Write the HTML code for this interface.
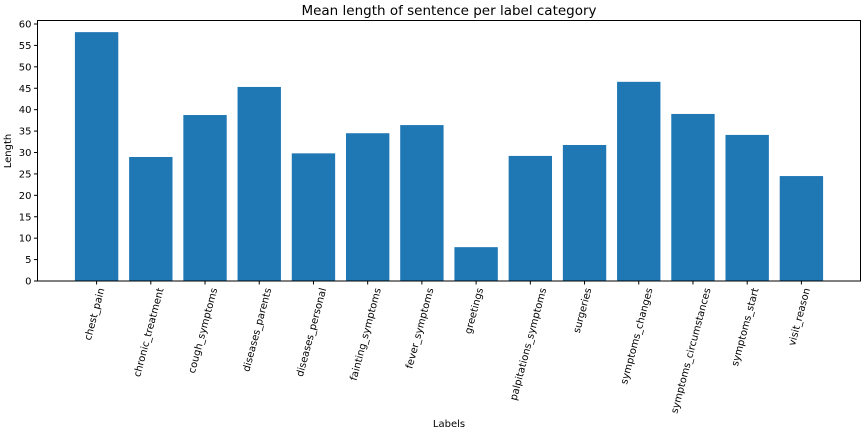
<!DOCTYPE html>
<html><head><meta charset="utf-8"><style>
body{margin:0;background:#fff;}
svg{font-family:"DejaVu Sans","Liberation Sans",sans-serif;}
</style></head><body>
<svg id="chart" width="864" height="432">
<text x="449" y="15" text-anchor="middle" font-size="13.5" fill="#000">Mean length of sentence per label category</text>
<g id="bars"></g>
<g id="yaxis"></g>
<g id="xaxis"></g>
<rect x="37.5" y="20.5" width="823" height="260.5" fill="none" stroke="#000" stroke-width="1"/>
<text x="449" y="427" text-anchor="middle" font-size="10">Labels</text>
<text transform="translate(11,151) rotate(-90)" text-anchor="middle" font-size="10">Length</text>
</svg>
<script>
const categories=["chest_pain","chronic_treatment","cough_symptoms","diseases_parents","diseases_personal","fainting_symptoms","fever_symptoms","greetings","palpitations_symptoms","surgeries","symptoms_changes","symptoms_circumstances","symptoms_start","visit_reason"];
const values=[58.1,28.95,38.75,45.3,29.8,34.5,36.4,7.9,29.2,31.75,46.5,39,34.1,24.5];
const yTicks=[0,5,10,15,20,25,30,35,40,45,50,55,60];
const NS="http://www.w3.org/2000/svg";
const L=37.5,R=860.5,T=20.5,B=281;
const xmin=-1.09,xmax=categories.length-1+1.09;
function X(i){return L+(i-xmin)/(xmax-xmin)*(R-L);}
function Y(v){return B-v/60*(B-24);}
const bw=0.8*(X(1)-X(0));
const bars=document.getElementById('bars'),ya=document.getElementById('yaxis'),xa=document.getElementById('xaxis');
values.forEach((v,i)=>{
 const r=document.createElementNS(NS,'rect');
 r.setAttribute('x',X(i)-bw/2);r.setAttribute('y',Y(v));
 r.setAttribute('width',bw);r.setAttribute('height',B-Y(v));
 r.setAttribute('fill','#1f77b4');
 
 
 bars.appendChild(r);
});
yTicks.forEach(t=>{
 const y=Y(t);
 const l=document.createElementNS(NS,'line');
 l.setAttribute('x1',L-3.5);l.setAttribute('x2',L);l.setAttribute('y1',y);l.setAttribute('y2',y);l.setAttribute('stroke','#000');
 
 
 ya.appendChild(l);
 const tx=document.createElementNS(NS,'text');
 tx.setAttribute('x',L-6);tx.setAttribute('y',y+3.5);tx.setAttribute('text-anchor','end');tx.setAttribute('font-size','10');
 tx.textContent=t;
 
 
 ya.appendChild(tx);
});
categories.forEach((c,i)=>{
 const x=X(i);
 const l=document.createElementNS(NS,'line');
 l.setAttribute('x1',x);l.setAttribute('x2',x);l.setAttribute('y1',B);l.setAttribute('y2',B+3.5);l.setAttribute('stroke','#000');
 
 
 xa.appendChild(l);
 const tx=document.createElementNS(NS,'text');
 tx.setAttribute('font-size','10');tx.setAttribute('text-anchor','end');
 tx.textContent=c;
 
 
 xa.appendChild(tx);
 const len=tx.getComputedTextLength();
 const dx=len*0.2588/2;
 tx.setAttribute('transform','translate('+(x+dx+1)+','+(B+8)+') rotate(-75)');
});
</script>
</body></html>
